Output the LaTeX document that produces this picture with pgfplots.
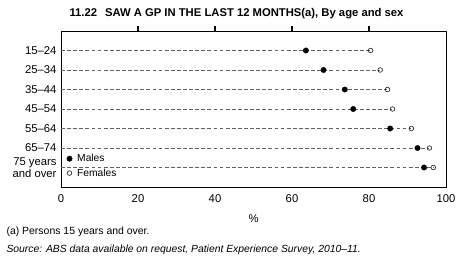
\documentclass[border=0pt]{standalone}
\usepackage{fontspec}
\setmainfont{Liberation Sans}
\usepackage{pgfplots}
\usepackage{pgfplotstable}
\pgfplotsset{compat=1.18}

% share who saw a GP, by age group (1 = 15-24 ... 7 = 75 and over)
\pgfplotstableread{
y male female
1 63.6 80.4
2 68.2 82.9
3 73.7 84.8
4 75.9 86.1
5 85.5 91.0
6 92.6 95.7
7 94.3 96.7
}\gpdata

\begin{document}
\begin{tikzpicture}[x=1bp,y=1bp]
\useasboundingbox (0,0) rectangle (470,263);
% top edge with outward ticks only
\begin{axis}[
    at={(61bp,76bp)}, anchor=south west,
    scale only axis,
    width=385bp, height=156bp,
    xmin=0, xmax=100, ymin=0, ymax=1,
    axis x line*=top,
    hide y axis,
    xtick={20,40,60,80},
    xticklabels={},
    tick align=outside,
    major tick length=4.5bp,
    every tick/.style={black, line width=1.2bp},
    axis line style={black, line width=0.8bp, -},
]
\end{axis}
\begin{axis}[
    at={(61bp,76bp)}, anchor=south west,
    scale only axis,
    width=385bp, height=156bp,
    xmin=0, xmax=100,
    ymin=0, ymax=8,
    y dir=reverse,
    xtick={0,20,...,100},
    xticklabel pos=lower,
    major tick length=0pt,
    ytick={1,...,7},
    yticklabels={15--24,25--34,35--44,45--54,55--64,65--74,{75 years\\and over}},
    yticklabel style={align=right, font=\fontsize{11.3}{12.5}\selectfont, xshift=-1bp},
    xticklabel style={font=\fontsize{11.3}{12.5}\selectfont, yshift=-4bp},
    /pgf/number format/assume math mode=true,
    xlabel={\%},
    xlabel style={font=\fontsize{11.3}{12.5}\selectfont, yshift=-5bp},
    axis line style={black, line width=0.8bp},
    legend style={at={(0.012,0.04)}, anchor=south west, draw=none, fill=none,
        font=\fontsize{10.3}{11}\selectfont, row sep=1.5bp, inner sep=1bp},
    legend cell align=left,
]
\addplot[xcomb, draw=black!62, line width=0.7bp, dash pattern=on 3.8bp off 2.3bp, forget plot]
    table[x=female, y=y]{\gpdata};
\addplot[only marks, mark=*, mark size=2.7bp, black]
    table[x=male, y=y]{\gpdata};
\addlegendentry{\hspace{3bp}Males}
\addplot[only marks, mark=o, mark size=2.3bp, mark options={fill=white, draw=black!80, line width=0.7bp}]
    table[x=female, y=y]{\gpdata};
\addlegendentry{\hspace{3bp}Females}
\end{axis}
\node[anchor=west, font=\fontsize{11.3}{13}\selectfont\bfseries] at (66,249)
    {11.22\hspace{8bp}SAW A GP IN THE LAST 12 MONTHS(a), By age and sex};
\node[anchor=west, font=\fontsize{10.5}{12}\selectfont] at (3,31)
    {(a) Persons 15 years and over.};
\node[anchor=west, font=\fontsize{10.4}{12}\selectfont\itshape] at (3,13)
    {Source: ABS data available on request, Patient Experience Survey, 2010--11.};
\end{tikzpicture}
\end{document}
